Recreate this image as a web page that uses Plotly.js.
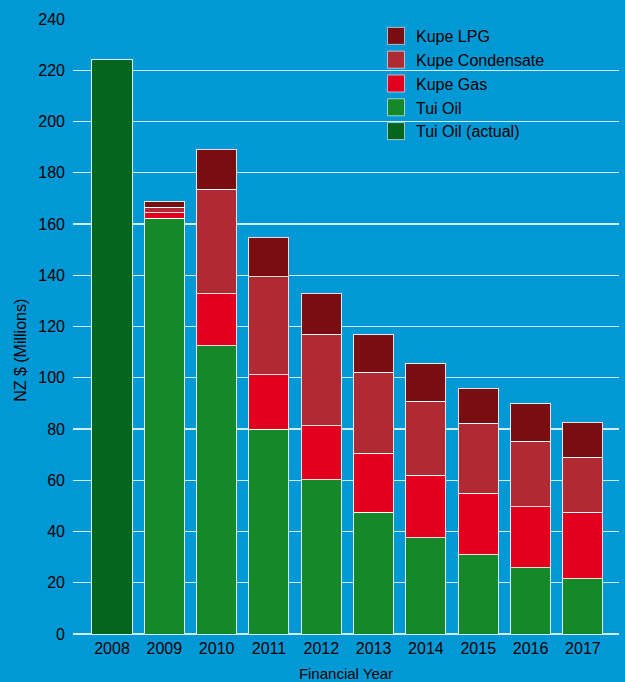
<!DOCTYPE html>
<html>
<head>
<meta charset="utf-8">
<script src="https://cdn.plot.ly/plotly-3.0.1.min.js"></script>
<style>html,body{margin:0;padding:0;background:#0099d6;}#chart{width:625px;height:682px;}</style>
</head>
<body>
<div id="chart"></div>
<script>
const years = ['2008','2009','2010','2011','2012','2013','2014','2015','2016','2017'];
const tuiOilActual = [224.1, null, null, null, null, null, null, null, null, null];
const tuiOil = [null, 162.2, 112.4, 80.0, 60.2, 47.6, 37.5, 30.9, 25.8, 21.6];
const kupeGas = [null, 2.2, 20.3, 21.1, 21.0, 22.9, 24.4, 24.0, 23.9, 26.0];
const kupeCondensate = [null, 2.1, 40.8, 38.3, 35.8, 31.6, 28.9, 27.4, 25.5, 21.4];
const kupeLPG = [null, 2.1, 15.6, 15.5, 16.0, 14.7, 14.7, 13.7, 14.7, 13.6];
const yTicks = [0,20,40,60,80,100,120,140,160,180,200,220,240];

const outline = {color:'rgba(255,255,255,0.85)', width:1};
function bar(name, vals, color, rank){
  return {type:'bar', name:name, x:years, y:vals, legendgroup:name, legendrank:rank,
    marker:{color:color, line:outline}, hoverinfo:'x+y+name'};
}
const data = [
  bar('Tui Oil (actual)', tuiOilActual, '#05651f', 5),
  bar('Tui Oil', tuiOil, '#15892a', 4),
  bar('Kupe Gas', kupeGas, '#e2001e', 3),
  bar('Kupe Condensate', kupeCondensate, '#b02a33', 2),
  bar('Kupe LPG', kupeLPG, '#790e10', 1)
];
const ff = '"Liberation Sans", Arial, Helvetica, sans-serif';
const layout = {
  width:625, height:682,
  margin:{l:73, r:6, t:19, b:48},
  paper_bgcolor:'#0099d6', plot_bgcolor:'#0099d6',
  font:{family:ff, color:'#000', size:16},
  barmode:'stack', bargap:0.235,
  showlegend:true,
  legend:{x:0.555, y:1.0, xanchor:'left', yanchor:'top', bgcolor:'rgba(0,0,0,0)',
    traceorder:'grouped', tracegroupgap:0, font:{size:16}},
  xaxis:{type:'category', categoryorder:'array', categoryarray:years,
    range:[-0.745, 9.69], showgrid:false, zeroline:false, showline:false,
    ticks:'', ticklabelstandoff:3, tickfont:{size:16},
    title:{text:'Financial Year', font:{size:15}, standoff:13}},
  yaxis:{range:[0,240], tickvals:yTicks, ticktext:yTicks.map(String),
    showgrid:true, gridcolor:'#d2ecf8', gridwidth:1.3, zeroline:true, zerolinecolor:'#d2ecf8', zerolinewidth:1.3,
    showline:false, ticks:'', ticklabelstandoff:7, tickfont:{size:16}},
  annotations:[{text:'NZ $ (Millions)', textangle:-90, xref:'paper', yref:'y', x:0, y:110.5,
    xshift:-52, showarrow:false, font:{size:16}, xanchor:'center', yanchor:'middle'}]
};
Plotly.newPlot('chart', data, layout, {displayModeBar:false, staticPlot:true}).then(function(){
  document.querySelectorAll('#chart .legendpoints path').forEach(function(p){
    p.setAttribute('d','M8.5,8.5H-8.5V-8.5H8.5Z');
    p.style.stroke = 'rgba(255,255,255,0.7)';
    p.style.strokeWidth = '1px';
  });
});
</script>
</body>
</html>
